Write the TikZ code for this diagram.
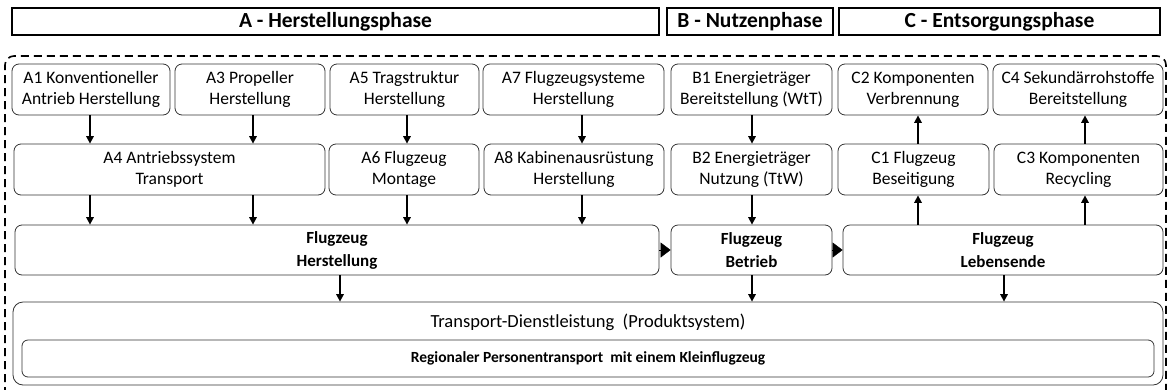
\documentclass[tikz,border=0pt]{standalone}
\usepackage{fontspec}
\setmainfont{Carlito}
\usetikzlibrary{arrows.meta}
\begin{document}
\begin{tikzpicture}[x=1pt,y=-1pt,
  % a cell spans left, right, top, bottom edges
  cell/.style n args={4}{minimum width={(#2)-(#1)}, minimum height={(#4)-(#3)},
    at={({((#1)+(#2))/2},{((#3)+(#4))/2})}},
  txt/.style={font=\fontsize{17.5}{21}\selectfont},
  box/.style={draw=black!80, line width=0.8pt, rounded corners=7pt, inner sep=0pt,
    align=center, txt},
  mainbox/.style={box, font=\bfseries\fontsize{17}{23}\selectfont},
  phase/.style={draw=black, line width=1.4pt, inner sep=0pt,
    font=\bfseries\fontsize{21.5}{22}\selectfont},
  flow/.style={line width=1.6pt, -{Triangle[length=7.5pt,width=7.5pt]}},
  handover/.style={line width=0.4pt, -{Triangle[length=10pt,width=15pt]}},
  frame/.style={draw=black, line width=1.6pt, dash pattern=on 8pt off 5pt, rounded corners=9pt}]

\useasboundingbox (0,0) rectangle (1167,389);

% life-cycle phases
\node[phase, cell={12}{659}{8}{35}] (pa) {A - Herstellungsphase};
\node[phase, cell={667}{833}{8}{35}] (pb) {B - Nutzenphase};
\node[phase, cell={839}{1160}{8}{35}] (pc) {C - Entsorgungsphase};

% system boundary
\draw[frame] (5,395) -- (5,56) -- (1166,56) -- (1166,395);

% first row of modules
\node[box, cell={12}{170}{64}{115}] (a1) {A1 Konventioneller\\Antrieb Herstellung};
\node[box, cell={175}{325}{64}{115}] (a3) {A3 Propeller\\Herstellung};
\node[box, cell={330}{479}{64}{115}] (a5) {A5 Tragstruktur\\Herstellung};
\node[box, cell={483}{664}{64}{115}] (a7) {A7 Flugzeugsysteme\\Herstellung};
\node[box, cell={671}{832}{64}{115}] (b1) {B1 Energieträger\\Bereitstellung (WtT)};
\node[box, cell={838}{988}{64}{115}] (c2) {C2 Komponenten\\Verbrennung};
\node[box, cell={993}{1163}{64}{115}] (c4) {C4 Sekundärrohstoffe\\Bereitstellung};

% second row of modules
\node[box, cell={14}{325}{144}{195}] (a4) {A4 Antriebssystem\\Transport};
\node[box, cell={329}{479}{144}{195}] (a6) {A6 Flugzeug\\Montage};
\node[box, cell={484}{664}{144}{195}] (a8) {A8 Kabinenausrüstung\\Herstellung};
\node[box, cell={671}{832}{144}{195}] (b2) {B2 Energieträger\\Nutzung (TtW)};
\node[box, cell={838}{989}{144}{195}] (c1) {C1 Flugzeug\\Beseitigung};
\node[box, cell={994}{1163}{144}{195}] (c3) {C3 Komponenten\\Recycling};

% aircraft life stages
\node[mainbox, cell={15}{659}{225}{275}] (fh) {Flugzeug\\Herstellung};
\node[mainbox, cell={671}{832}{225}{275}] (fb) {Flugzeug\\Betrieb};
\node[mainbox, cell={843}{1163}{225}{275}] (fl) {Flugzeug\\Lebensende};

% product system
\node[box, rounded corners=10pt, cell={13}{1163}{302}{385}] (ps) {};
\node[font=\fontsize{18.5}{21}\selectfont, inner sep=0pt] (pst) at (588,322) {Transport-Dienstleistung\ \ (Produktsystem)};
\node[box, rounded corners=6pt, cell={22}{1154}{340}{377}, font=\bfseries\fontsize{15.5}{19}\selectfont] (rp) {Regionaler Personentransport\ \ mit einem Kleinflugzeug};

% connector columns
\coordinate (x1) at (90,0);
\coordinate (x2) at (253,0);
\coordinate (x3) at (407,0);
\coordinate (x4) at (582,0);
\coordinate (x5) at (752,0);
\coordinate (x6) at (918,0);
\coordinate (x7) at (1085,0);
\coordinate (x8) at (340,0);
\coordinate (x9) at (1004,0);

% flows row 1 -> row 2
\draw[flow] (a1.south -| x1) -- (a4.north -| x1);
\draw[flow] (a3.south -| x2) -- (a4.north -| x2);
\draw[flow] (a5.south -| x3) -- (a6.north -| x3);
\draw[flow] (a7.south -| x4) -- (a8.north -| x4);
\draw[flow] (b1.south -| x5) -- (b2.north -| x5);
\draw[flow] (c1.north -| x6) -- (c2.south -| x6);
\draw[flow] (c3.north -| x7) -- (c4.south -| x7);

% flows row 2 -> life stages
\draw[flow] (a4.south -| x1) -- (fh.north -| x1);
\draw[flow] (a4.south -| x2) -- (fh.north -| x2);
\draw[flow] (a6.south -| x3) -- (fh.north -| x3);
\draw[flow] (a8.south -| x4) -- (fh.north -| x4);
\draw[flow] (b2.south -| x5) -- (fb.north -| x5);
\draw[flow] (fl.north -| x6) -- (c1.south -| x6);
\draw[flow] (fl.north -| x7) -- (c3.south -| x7);

% hand-over between life stages
\draw[handover] (fh.east) -- (fb.west);
\draw[handover] (fb.east) -- (fl.west);

% life stages -> product system
\draw[flow] (fh.south -| x8) -- (ps.north -| x8);
\draw[flow] (fb.south -| x5) -- (ps.north -| x5);
\draw[flow] (fl.south -| x9) -- (ps.north -| x9);
\end{tikzpicture}
\end{document}
